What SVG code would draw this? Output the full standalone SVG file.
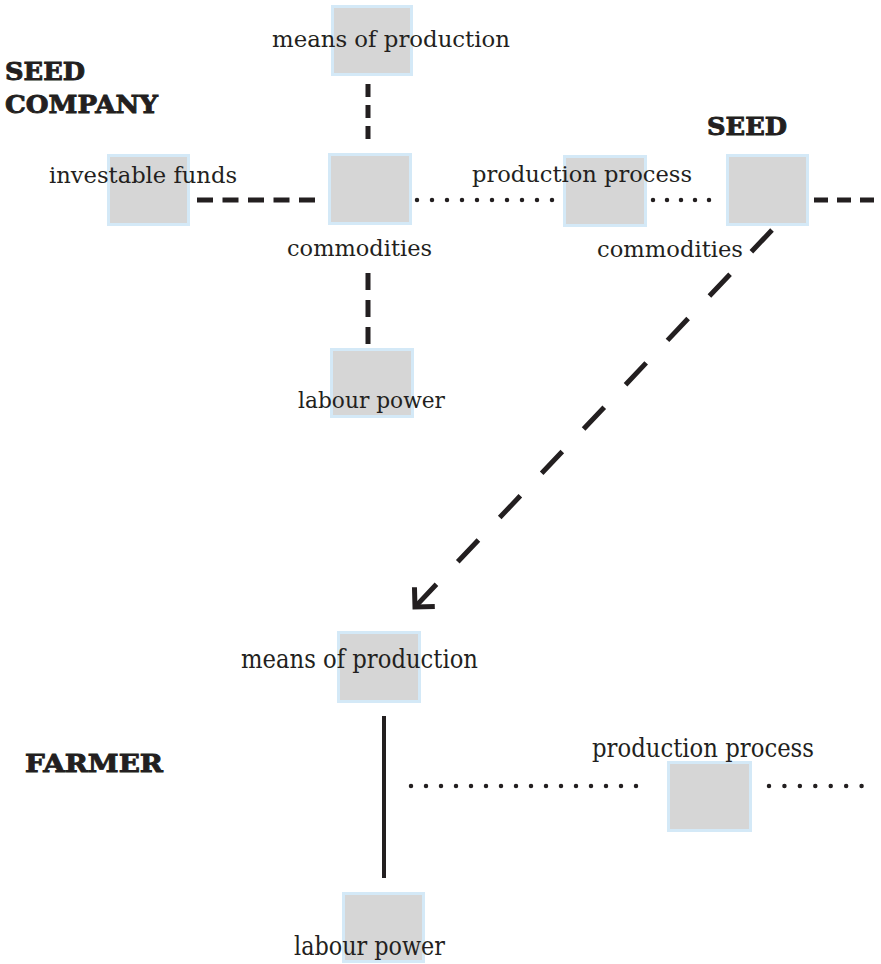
<svg xmlns="http://www.w3.org/2000/svg" width="881" height="964" viewBox="0 0 881 964">
<style>
.box{fill:#d6d6d6;stroke:#d4e9f7;stroke-width:3}
.lbl{font-family:"DejaVu Serif","Liberation Serif",serif;font-size:23px;fill:#231f20}
.lbl2{font-family:"DejaVu Serif","Liberation Serif",serif;font-size:26px;fill:#231f20}
.ttl{font-family:"DejaVu Serif","Liberation Serif",serif;font-weight:bold;font-size:25px;fill:#231f20;stroke:#231f20;stroke-width:0.9}
.dash{fill:none;stroke:#231f20;stroke-width:5;stroke-linecap:butt}
.dot{fill:none;stroke:#231f20;stroke-width:4.5;stroke-linecap:round}
.solid{fill:none;stroke:#231f20;stroke-width:4}
</style>
<defs>
<marker id="chev" markerUnits="userSpaceOnUse" markerWidth="40" markerHeight="40" viewBox="-20 -20 40 40" refX="0" refY="0" orient="auto" overflow="visible">
<path d="M-14,-14 L0,0 L-14,14" fill="none" stroke="#231f20" stroke-width="5" stroke-dasharray="none"/>
</marker>
</defs>
<rect width="881" height="964" fill="#ffffff"/>
<g id="titles">
<text class="ttl" x="5" y="80" textLength="80" lengthAdjust="spacingAndGlyphs">SEED</text>
<text class="ttl" x="5" y="113" textLength="153" lengthAdjust="spacingAndGlyphs">COMPANY</text>
<text class="ttl" x="707" y="135" textLength="80" lengthAdjust="spacingAndGlyphs">SEED</text>
<text class="ttl" x="25" y="772" font-size="28" textLength="138" lengthAdjust="spacingAndGlyphs">FARMER</text>
</g>
<g id="connectors">
<line class="dash" x1="368" y1="84" x2="368" y2="139" stroke-dasharray="13 8"/>
<line class="dash" x1="197" y1="200" x2="315" y2="200" stroke-dasharray="16 9.5"/>
<line class="dash" x1="368" y1="273" x2="368" y2="344" stroke-dasharray="17 10"/>
<line class="dash" x1="814" y1="200" x2="875" y2="200" stroke-dasharray="14 9"/>
<line class="dot" x1="417" y1="200" x2="553" y2="200" stroke-dasharray="0 15"/>
<line class="dot" x1="653" y1="200" x2="723" y2="200" stroke-dasharray="0 14"/>
<line class="dash" x1="772" y1="230" x2="415" y2="607" stroke-dasharray="30 31" marker-end="url(#chev)"/>
<line class="solid" x1="384" y1="716" x2="384" y2="878"/>
<line class="dot" x1="411" y1="786" x2="651" y2="786" stroke-dasharray="0 15"/>
<line class="dot" x1="769" y1="786" x2="877" y2="786" stroke-dasharray="0 15.43"/>
</g>
<g id="mop-top">
<rect class="box" x="332.5" y="6.5" width="79" height="68"/>
<text class="lbl" x="272" y="47" textLength="238" lengthAdjust="spacingAndGlyphs">means of production</text>
</g>
<g id="investable-funds">
<rect class="box" x="108.5" y="155.5" width="80" height="69"/>
<text class="lbl" x="49" y="183" textLength="188" lengthAdjust="spacingAndGlyphs">investable funds</text>
</g>
<g id="commodities-1">
<rect class="box" x="329.5" y="154.5" width="81" height="69"/>
<text class="lbl" x="287" y="256" textLength="145" lengthAdjust="spacingAndGlyphs">commodities</text>
</g>
<g id="process-1">
<rect class="box" x="564.5" y="156.5" width="81" height="69"/>
<text class="lbl" x="472" y="182" textLength="220" lengthAdjust="spacingAndGlyphs">production process</text>
</g>
<g id="seed">
<rect class="box" x="727.5" y="155.5" width="80" height="69"/>
<text class="lbl" x="597" y="257" textLength="146" lengthAdjust="spacingAndGlyphs">commodities</text>
</g>
<g id="labour-top">
<rect class="box" x="331.5" y="349.5" width="81" height="67"/>
<text class="lbl" x="298" y="408" textLength="147" lengthAdjust="spacingAndGlyphs">labour power</text>
</g>
<g id="mop-bottom">
<rect class="box" x="338.5" y="632.5" width="81" height="69"/>
<text class="lbl2" x="241" y="668" textLength="237" lengthAdjust="spacingAndGlyphs">means of production</text>
</g>
<g id="process-2">
<rect class="box" x="668.5" y="762.5" width="82" height="68"/>
<text class="lbl2" x="592" y="757" textLength="222" lengthAdjust="spacingAndGlyphs">production process</text>
</g>
<g id="labour-bottom">
<rect class="box" x="343.5" y="893.5" width="80" height="68"/>
<text class="lbl2" x="294" y="955" textLength="151" lengthAdjust="spacingAndGlyphs">labour power</text>
</g>
</svg>
